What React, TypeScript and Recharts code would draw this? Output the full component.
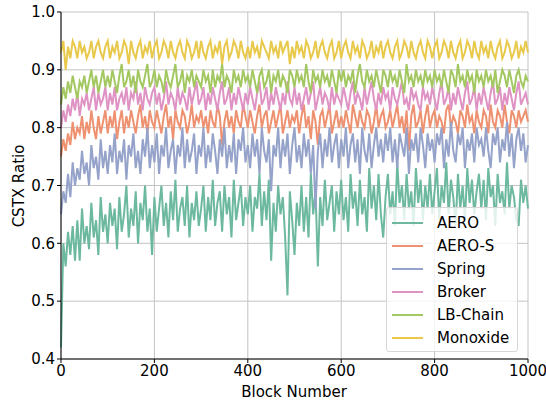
import {
  LineChart,
  Line,
  XAxis,
  YAxis,
  CartesianGrid,
  Label,
} from "recharts";

// CSTX ratio per block, in percent, sampled every 5 blocks (0..1000)
const AERO = [
  42, 60, 56, 62, 58, 63, 57, 64, 57, 66, 60, 63, 59, 67, 61, 64, 58, 68, 62, 65,
  60, 67, 63, 66, 59, 68, 62, 65, 70, 61, 66, 63, 69, 60, 67, 64, 70, 62, 66, 58,
  68, 62, 66, 70, 63, 67, 61, 69, 64, 71, 62, 66, 68, 63, 70, 61, 67, 64, 69, 63,
  66, 70, 62, 68, 64, 71, 63, 67, 69, 62, 70, 65, 68, 61, 71, 64, 67, 70, 63, 68,
  65, 70, 62, 68, 66, 72, 63, 69, 64, 71, 57, 67, 62, 70, 65, 68, 61, 51, 69, 64,
  58, 67, 63, 70, 62, 68, 61, 72, 65, 69, 56, 68, 63, 71, 64, 67, 70, 62, 69, 65,
  71, 64, 68, 62, 72, 66, 69, 63, 71, 65, 68, 62, 73, 66, 70, 64, 72, 65, 61, 68,
  72, 65, 69, 63, 74, 67, 70, 64, 72, 66, 69, 63, 73, 67, 71, 64, 70, 66, 72, 65,
  69, 73, 64, 70, 67, 74, 65, 71, 68, 63, 72, 66, 70, 64, 73, 67, 71, 65, 69, 72,
  66, 71, 64, 73, 68, 70, 63, 72, 67, 69, 65, 74, 66, 70, 68, 64, 63, 71, 67, 70,
  66,
];
const AERO_S = [
  75, 78, 76, 79, 77, 81, 78, 80, 79, 82, 78, 81, 79, 83, 80, 78, 82, 79, 81, 83,
  79, 82, 80, 83, 78, 81, 83, 79, 82, 80, 83, 81, 79, 82, 84, 80, 82, 79, 83, 81,
  80, 83, 81, 79, 82, 84, 80, 82, 78, 83, 81, 80, 83, 82, 79, 81, 84, 80, 82, 81,
  83, 80, 82, 79, 83, 81, 80, 84, 82, 77, 81, 83, 80, 82, 79, 83, 81, 80, 84, 82,
  80, 83, 81, 79, 82, 84, 80, 82, 83, 79, 81, 83, 80, 82, 84, 79, 81, 83, 80, 82,
  81, 83, 79, 82, 84, 80, 82, 78, 83, 81, 77, 82, 83, 80, 82, 84, 79, 81, 83, 80,
  82, 80, 83, 81, 79, 84, 82, 80, 83, 81, 80, 83, 82, 79, 81, 84, 80, 82, 83, 80,
  81, 83, 80, 82, 84, 80, 82, 79, 83, 76, 82, 84, 80, 81, 83, 79, 82, 84, 80, 82,
  83, 80, 82, 81, 79, 83, 84, 80, 82, 81, 79, 83, 82, 80, 84, 81, 82, 79, 83, 81,
  80, 83, 82, 79, 84, 81, 80, 83, 82, 80, 84, 81, 79, 83, 82, 80, 83, 81, 82, 83,
  81,
];
const SPRING = [
  65, 69, 67, 72, 68, 74, 70, 73, 71, 76, 72, 74, 70, 77, 73, 75, 71, 78, 73, 76,
  72, 77, 74, 79, 72, 76, 74, 78, 71, 77, 75, 79, 73, 76, 72, 78, 75, 80, 73, 77,
  74, 79, 72, 77, 75, 80, 73, 76, 78, 72, 77, 75, 80, 73, 78, 74, 76, 79, 72, 77,
  75, 80, 73, 77, 74, 79, 76, 72, 78, 75, 80, 73, 77, 74, 79, 72, 78, 76, 80, 74,
  77, 73, 79, 75, 78, 72, 80, 76, 74, 78, 69, 77, 75, 80, 73, 78, 75, 79, 72, 77,
  80, 74, 77, 73, 79, 75, 78, 72, 77, 66, 76, 79, 73, 78, 75, 80, 74, 77, 79, 73,
  78, 75, 80, 73, 77, 79, 74, 78, 72, 80, 76, 74, 79, 73, 77, 80, 75, 78, 74, 79,
  76, 80, 74, 78, 73, 79, 77, 75, 80, 72, 78, 76, 79, 74, 80, 77, 73, 79, 76, 78,
  74, 79, 77, 80, 73, 78, 75, 81, 76, 74, 79, 77, 80, 73, 78, 76, 79, 74, 80, 77,
  78, 75, 80, 76, 73, 79, 77, 80, 74, 78, 76, 81, 75, 79, 73, 78, 80, 76, 79, 74,
  77,
];
const BROKER = [
  80, 83, 81, 84, 82, 85, 83, 86, 82, 85, 84, 86, 83, 85, 87, 83, 86, 84, 85, 87,
  83, 86, 84, 87, 83, 85, 86, 84, 87, 83, 86, 85, 88, 84, 86, 83, 87, 85, 84, 86,
  87, 84, 86, 83, 85, 88, 84, 86, 85, 83, 87, 84, 86, 85, 83, 87, 84, 86, 88, 84,
  85, 87, 83, 86, 84, 87, 85, 83, 86, 88, 84, 85, 87, 83, 86, 84, 87, 85, 83, 86,
  84, 87, 85, 83, 86, 88, 84, 85, 87, 83, 86, 84, 87, 85, 83, 86, 84, 88, 85, 84,
  87, 84, 86, 83, 85, 87, 84, 86, 88, 83, 85, 87, 84, 86, 85, 83, 87, 84, 86, 85,
  84, 87, 85, 83, 86, 88, 84, 86, 85, 83, 87, 84, 86, 88, 85, 83, 86, 84, 87, 85,
  86, 83, 87, 85, 84, 86, 88, 84, 85, 83, 87, 85, 86, 84, 83, 87, 85, 86, 84, 87,
  85, 83, 86, 88, 84, 85, 87, 83, 86, 84, 87, 85, 83, 86, 88, 84, 85, 87, 83, 86,
  84, 87, 85, 83, 86, 88, 84, 85, 87, 83, 86, 84, 87, 85, 83, 86, 88, 84, 85, 86,
  84,
];
const LB_CHAIN = [
  84, 87, 85, 88, 86, 89, 87, 85, 88, 87, 89, 86, 88, 90, 87, 89, 86, 88, 90, 87,
  89, 87, 90, 88, 86, 89, 91, 87, 88, 90, 87, 89, 86, 90, 88, 87, 89, 91, 87, 88,
  90, 87, 89, 88, 86, 90, 88, 87, 89, 91, 87, 88, 90, 86, 89, 88, 90, 87, 89, 88,
  87, 90, 88, 89, 86, 90, 87, 89, 88, 91, 87, 89, 88, 86, 90, 88, 89, 87, 90, 88,
  89, 87, 90, 88, 86, 89, 90, 87, 88, 90, 86, 89, 88, 90, 87, 89, 88, 86, 90, 89,
  87, 90, 88, 89, 87, 91, 88, 86, 90, 88, 89, 87, 90, 88, 89, 87, 90, 88, 86, 90,
  88, 90, 87, 89, 88, 90, 86, 89, 91, 88, 87, 90, 88, 89, 87, 90, 88, 86, 90, 89,
  87, 90, 88, 89, 87, 90, 88, 86, 91, 88, 89, 87, 90, 88, 89, 87, 90, 88, 89, 87,
  90, 88, 89, 87, 90, 88, 86, 90, 89, 87, 91, 88, 89, 87, 90, 88, 89, 86, 90, 88,
  89, 87, 90, 88, 89, 87, 90, 86, 88, 90, 89, 87, 90, 88, 86, 89, 90, 88, 87, 89,
  88,
];
const MONOXIDE = [
  93, 95, 90, 94, 92, 95, 94, 92, 95, 93, 94, 92, 93, 95, 92, 94, 95, 93, 92, 94,
  95, 92, 94, 93, 95, 92, 93, 95, 94, 91, 95, 93, 92, 94, 95, 92, 94, 93, 95, 92,
  94, 95, 92, 93, 95, 94, 92, 95, 93, 92, 94, 95, 93, 92, 95, 94, 92, 93, 95, 92,
  95, 93, 92, 94, 95, 92, 94, 93, 95, 91, 94, 95, 92, 93, 95, 94, 92, 95, 93, 92,
  94, 92, 95, 93, 94, 92, 95, 94, 93, 92, 95, 93, 94, 92, 95, 93, 94, 95, 91, 94,
  92, 95, 93, 94, 92, 95, 94, 92, 93, 95, 92, 94, 95, 93, 92, 94, 95, 92, 93, 95,
  92, 94, 95, 93, 92, 95, 93, 94, 92, 95, 94, 92, 93, 95, 92, 94, 93, 95, 92, 94,
  95, 93, 92, 94, 95, 92, 93, 95, 94, 92, 95, 93, 92, 94, 95, 93, 92, 95, 94, 92,
  94, 95, 92, 93, 95, 94, 92, 95, 93, 92, 94, 95, 92, 93, 95, 94, 92, 95, 93, 92,
  95, 93, 94, 92, 95, 93, 92, 94, 95, 92, 93, 95, 94, 92, 93, 95, 92, 94, 93, 95,
  93,
];

const X_TICKS = [0, 200, 400, 600, 800, 1000];
const Y_TICKS = [0.4, 0.5, 0.6, 0.7, 0.8, 0.9, 1.0];

const SERIES = [
  { key: "aero", name: "AERO", values: AERO, color: "#6cb9a0" },
  { key: "aeroS", name: "AERO-S", values: AERO_S, color: "#ee9170" },
  { key: "spring", name: "Spring", values: SPRING, color: "#95a2c9" },
  { key: "broker", name: "Broker", values: BROKER, color: "#df93c4" },
  { key: "lbChain", name: "LB-Chain", values: LB_CHAIN, color: "#a3c862" },
  { key: "monoxide", name: "Monoxide", values: MONOXIDE, color: "#e8c94c" },
];

const STEP = 5;
const data = AERO.map((_, i) => {
  const row: Record<string, number> = { block: i * STEP };
  SERIES.forEach((s) => {
    row[s.key] = s.values[i] / 100;
  });
  return row;
});

const FONT = "DejaVu Sans, sans-serif";
const tickStyle = { fill: "#000", fontSize: 15, fontFamily: FONT };

export default function App() {
  return (
    <div
      style={{
        position: "absolute",
        left: 0,
        top: 0,
        width: 546,
        height: 405,
        background: "#fff",
        fontFamily: FONT,
      }}
    >
      <LineChart
        width={546}
        height={405}
        data={data}
        margin={{ top: 12, right: 18, bottom: 0, left: 0 }}
        style={{ overflow: "visible" }}
      >
        <CartesianGrid stroke="#c4c4c4" strokeWidth={1} />
        <XAxis
          dataKey="block"
          type="number"
          domain={[0, 1000]}
          ticks={X_TICKS}
          height={46}
          stroke="#000"
          tickSize={4}
          tick={tickStyle}
          interval={0}
        >
          <Label
            content={() => (
              <text
                x={294}
                y={397}
                textAnchor="middle"
                fontSize={15}
                fontFamily={FONT}
                fill="#000"
              >
                Block Number
              </text>
            )}
          />
        </XAxis>
        <XAxis
          xAxisId="top"
          orientation="top"
          type="number"
          domain={[0, 1000]}
          height={0}
          tick={false}
          tickLine={false}
          stroke="#000"
        />
        <YAxis
          domain={[0.4, 1.0]}
          ticks={Y_TICKS}
          tickFormatter={(v: number) => v.toFixed(1)}
          width={61}
          stroke="#000"
          tickSize={4}
          tick={tickStyle}
          interval={0}
        >
          <Label
            content={() => (
              <text
                x={19}
                y={186}
                transform="rotate(-90 19 186)"
                textAnchor="middle"
                dominantBaseline="central"
                fontSize={15}
                fontFamily={FONT}
                fill="#000"
              >
                CSTX Ratio
              </text>
            )}
          />
        </YAxis>
        <YAxis
          yAxisId="right"
          orientation="right"
          domain={[0.4, 1.0]}
          width={0}
          tick={false}
          tickLine={false}
          stroke="#000"
        />
        {SERIES.map((s) => (
          <Line
            key={s.key}
            type="linear"
            dataKey={s.key}
            name={s.name}
            stroke={s.color}
            strokeWidth={2}
            strokeLinejoin="miter"
            dot={false}
            isAnimationActive={false}
          />
        ))}
      </LineChart>

      {/* legend box, lower right inside the plot */}
      <div
        style={{
          position: "absolute",
          left: 386,
          top: 207,
          width: 132,
          height: 145,
          boxSizing: "border-box",
          border: "1px solid #d6d6d6",
          borderRadius: 3,
          background: "rgba(255,255,255,0.8)",
          paddingTop: 3,
        }}
      >
        {SERIES.map((s) => (
          <div
            key={s.key}
            style={{
              display: "flex",
              alignItems: "center",
              height: 23,
              fontSize: 15,
              color: "#000",
            }}
          >
            <div
              style={{
                width: 31,
                height: 2,
                marginLeft: 5,
                marginRight: 14,
                background: s.color,
              }}
            />
            <span>{s.name}</span>
          </div>
        ))}
      </div>
    </div>
  );
}
